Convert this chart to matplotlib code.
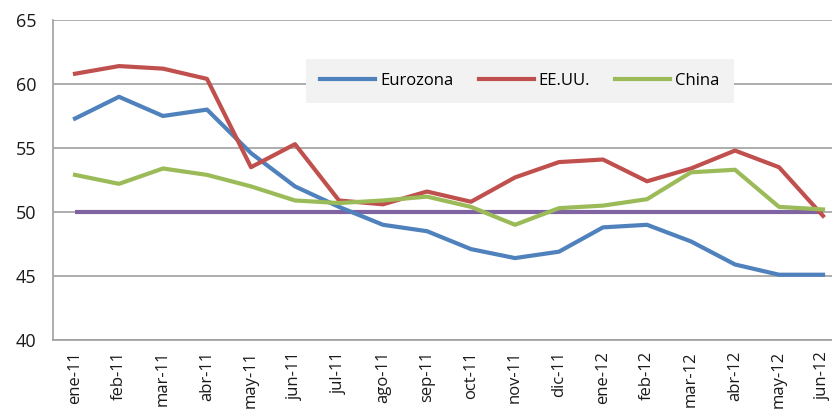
import matplotlib
matplotlib.use("Agg")
import matplotlib.pyplot as plt

plt.rcParams['font.family'] = ['Open Sans', 'DejaVu Sans']

months = ["ene-11", "feb-11", "mar-11", "abr-11", "may-11", "jun-11", "jul-11", "ago-11",
          "sep-11", "oct-11", "nov-11", "dic-11", "ene-12", "feb-12", "mar-12", "abr-12",
          "may-12", "jun-12"]
eurozona = [57.3, 59.0, 57.5, 58.0, 54.6, 52.0, 50.4, 49.0, 48.5, 47.1, 46.4, 46.9,
            48.8, 49.0, 47.7, 45.9, 45.1, 45.1]
eeuu = [60.8, 61.4, 61.2, 60.4, 53.5, 55.3, 50.9, 50.6, 51.6, 50.8, 52.7, 53.9,
        54.1, 52.4, 53.4, 54.8, 53.5, 49.7]
china = [52.9, 52.2, 53.4, 52.9, 52.0, 50.9, 50.7, 50.9, 51.2, 50.4, 49.0, 50.3,
         50.5, 51.0, 53.1, 53.3, 50.4, 50.2]
umbral = [50] * len(months)

fig = plt.figure(figsize=(8.32, 4.12), dpi=100)
W, H = 832, 412
left, right, top, bottom = 53, 845, 20, 340
ax = fig.add_axes([left / W, 1 - bottom / H, (right - left) / W, (bottom - top) / H])

x = list(range(len(months)))
ax.plot(x, umbral, color="#8064A2", lw=3, solid_capstyle="butt", zorder=2)
l1, = ax.plot(x, eurozona, color="#4F81BD", lw=3, label="Eurozona", zorder=3)
l2, = ax.plot(x, eeuu, color="#C0504D", lw=3, label="EE.UU.", zorder=3)
l3, = ax.plot(x, china, color="#9BBB59", lw=3, label="China", zorder=3)

ax.set_xlim(-0.5, len(months) - 0.5)
ax.set_ylim(40, 65)
ax.set_yticks([40, 45, 50, 55, 60, 65])
ax.set_xticks(x)
ax.set_xticklabels(months, rotation=90, fontsize=12, color="#1a1a1a")
ax.tick_params(axis="y", labelsize=13, colors="#1a1a1a", length=0, pad=12)
ax.tick_params(axis="x", length=0, pad=8)
ax.yaxis.grid(True, color="#a0a0a0", lw=1.2)
ax.set_axisbelow(True)
for s in ["top", "right"]:
    ax.spines[s].set_visible(False)
for s in ["left", "bottom"]:
    ax.spines[s].set_color("#a0a0a0")
    ax.spines[s].set_linewidth(1.2)

leg = fig.legend(handles=[l1, l2, l3], loc="center", bbox_to_anchor=(520 / W, 1 - 81 / H),
                 ncol=3, frameon=True, fontsize=12, handlelength=3.3, columnspacing=1.5,
                 handletextpad=0.3, borderpad=0.85, fancybox=False)
leg.get_frame().set_facecolor("#F2F2F2")
leg.get_frame().set_edgecolor("none")
leg.get_frame().set_alpha(1)

fig.savefig("out.png", dpi=100)
